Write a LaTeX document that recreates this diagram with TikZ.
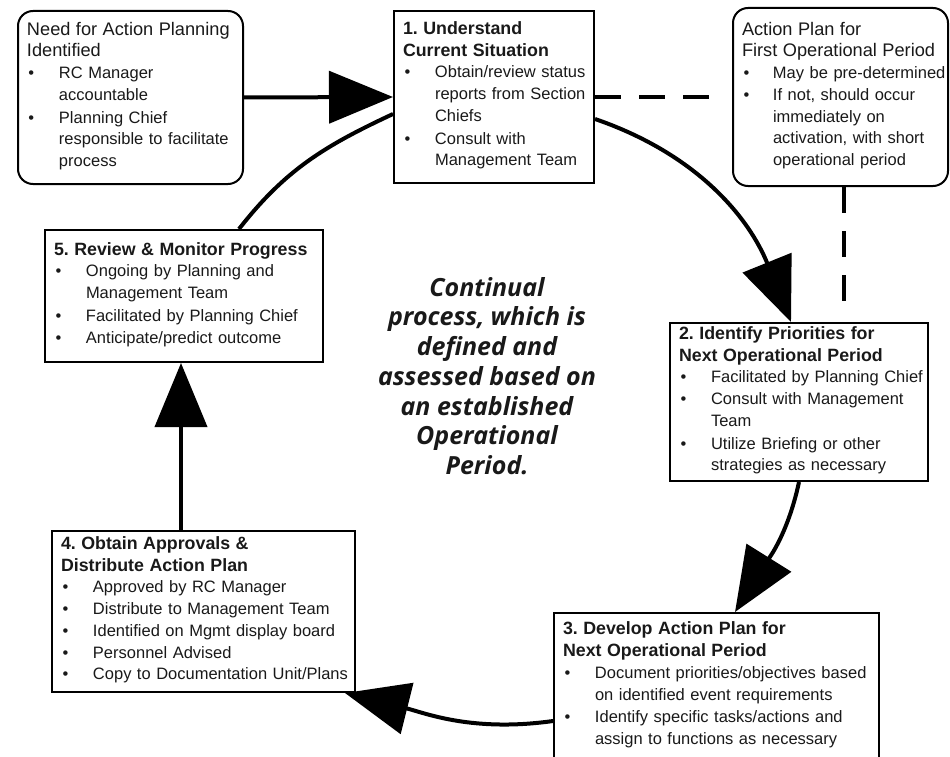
\documentclass[tikz,border=0pt]{standalone}
\usepackage{fontspec}
\setmainfont{Liberation Sans}
\newfontfamily\notefont{Open Sans}
\usetikzlibrary{arrows.meta}

\newlength{\bulind}
\setlength{\bulind}{32pt}
\newcommand{\boxfont}{\fontsize{16.5}{21.7}\selectfont\frenchspacing\lineskiplimit=-10pt\relax}
\newcommand{\headfont}{\fontsize{17.8}{21.7}\selectfont\bfseries}
\newcommand{\leadfont}{\fontsize{18.2}{21.7}\selectfont}
\newcommand{\bul}[1]{\par\noindent\makebox[\bulind][l]{\hspace{1.5pt}\textbullet}\begin{tabular}[t]{@{}l@{}}#1\end{tabular}}

\begin{document}
\begin{tikzpicture}[x=1pt, y=-1pt,
    every node/.style={font=\boxfont, text=black!90},
    stepbox/.style={draw, line width=2pt, inner xsep=9pt, inner ysep=0pt, anchor=north west, align=left},
    startbox/.style={stepbox, rounded corners=15pt},
    flow/.style={line width=4pt, -{Triangle[length=64pt,width=52pt]}},
    ring/.style={line width=4pt},
    dashlink/.style={line width=4pt, dash pattern=on 26pt off 18pt on 26pt off 18pt on 26pt off 40pt},
    note/.style={font=\fontsize{25}{29.7}\notefont\bfseries\itshape\selectfont, align=center}]
    \useasboundingbox (0,0) rectangle (950,757);   %Rahmen

    \node[startbox, minimum width=225pt, minimum height=173pt, text width=207pt] (needA) at (17,10)
        {{\leadfont Need for Action Planning\\Identified}\par
         \bul{RC Manager\\accountable}
         \bul{Planning Chief\\responsible to facilitate\\process}};
    \node[stepbox, minimum width=200pt, minimum height=172pt, text width=182pt] (s1) at (393,10)
        {{\headfont 1. Understand\\Current Situation}\par
         \bul{Obtain/review status\\reports from Section\\Chiefs}
         \bul{Consult with\\Management Team}};
    \node[startbox, minimum width=215pt, minimum height=178pt, text width=197pt, inner xsep=7pt] (apFirst) at (732,7)
        {\setlength{\bulind}{31pt}{\leadfont Action Plan for\\First Operational Period}\par
         \bul{May be pre-determined}
         \bul{If not, should occur\\immediately on\\activation, with short\\operational period}};
    \node[stepbox, minimum width=278pt, minimum height=132pt, text width=260pt] (s5) at (44,229)
        {{\headfont 5. Review \& Monitor Progress}\par
         \bul{Ongoing by Planning and\\Management Team}
         \bul{Facilitated by Planning Chief}
         \bul{Anticipate/predict outcome}};
    \node[stepbox, minimum width=258pt, minimum height=158pt, text width=240pt] (s2) at (669,322)
        {{\headfont 2. Identify Priorities for\\Next Operational Period}\par
         \bul{Facilitated by Planning Chief}
         \bul{Consult with Management\\Team}
         \bul{Utilize Briefing or other\\strategies as necessary}};
    \node[stepbox, minimum width=303pt, minimum height=161pt, text width=285pt] (s4) at (51,530)
        {{\headfont 4. Obtain Approvals \&\\Distribute Action Plan}\par
         \bul{Approved by RC Manager}
         \bul{Distribute to Management Team}
         \bul{Identified on Mgmt display board}
         \bul{Personnel Advised}
         \bul{Copy to Documentation Unit/Plans}};
    \node[stepbox, minimum width=325pt, minimum height=147pt, text width=307pt] (s3) at (553,612)
        {{\headfont 3. Develop Action Plan for\\Next Operational Period}\par
         \bul{Document priorities/objectives based\\on identified event requirements}
         \bul{Identify specific tasks/actions and\\assign to functions as necessary}};
    \node[note] (remark) at (487,376)
        {Continual\\process, which is\\defined and\\assessed based on\\an established\\Operational\\Period.};

    \draw[flow] (needA.east) -- (s1.west);   %Einstieg
    \draw[dashlink] (s1.east) -- (apFirst.west);
    \draw[dashlink] ([xshift=3.5pt]apFirst.south) -- ([xshift=3.5pt]apFirst.south |- s2.north);
    \draw[flow] ([yshift=-22pt]s1.east) to[out=-19, in=112] ([xshift=-8pt]s2.north);   %Kreis
    \draw[flow] (s2.south) to[out=-102, in=58] ([xshift=18.5pt]s3.north);
    \draw[flow] ([yshift=-34.5pt]s3.west) to[out=188, in=-14] ([xshift=-11pt]s4.south east);
    \draw[flow] ([xshift=-3pt]s5.south |- s4.north) -- ([xshift=-3pt]s5.south);
    \draw[ring] ([xshift=55pt]s5.north) to[out=52, in=205] ([yshift=-17pt]s1.west);
\end{tikzpicture}
\end{document}
